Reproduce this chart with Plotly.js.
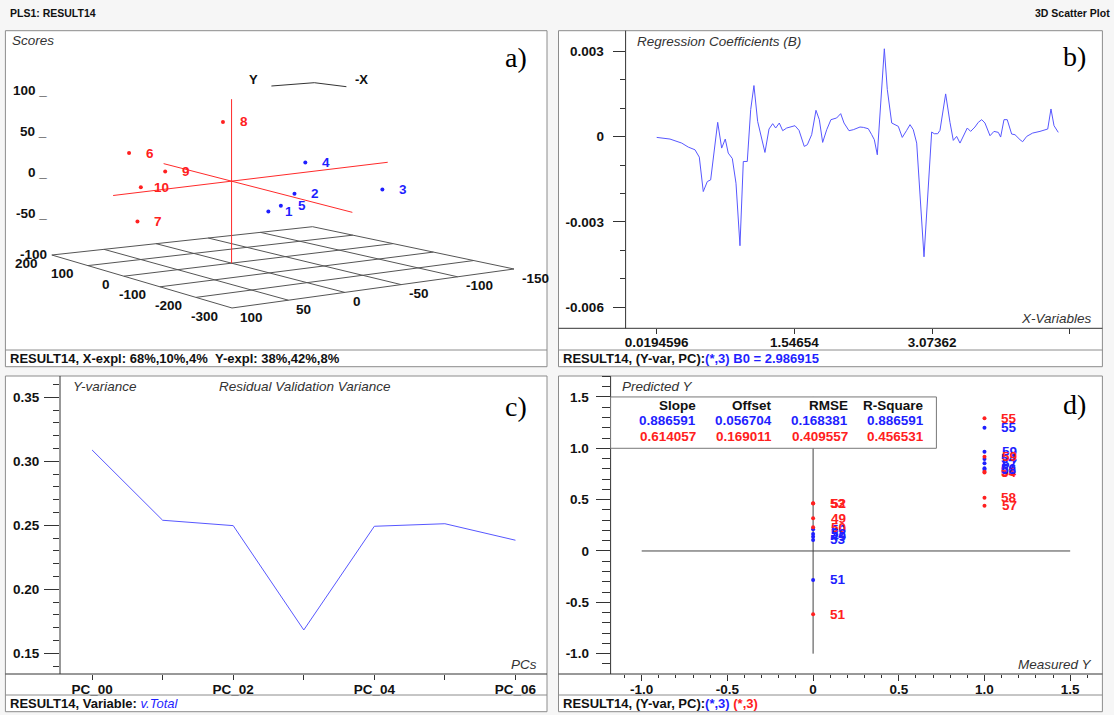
<!DOCTYPE html>
<html><head><meta charset="utf-8">
<script src="https://cdn.plot.ly/plotly-3.0.1.min.js"></script>
<style>html,body{margin:0;padding:0;background:#f6f6f6;}#chart{width:1114px;height:715px;}</style>
</head><body><div id="chart"></div>
<script>
// ---------------- DATA ----------------
// Panel a: PLS scores (3 components) per sample
const sampleIds   = ['1','2','3','4','5','6','7','8','9','10'];
const sampleGroup = ['b','b','b','b','b','r','r','r','r','r'];
const scoreU = [-60, -80, -140, -60, -70, 80, 60, 20, 60, 100];
const scoreV = [-13, -30, -89, -47, -21, 68, 67, 1, 41, 50];
const scoreW = [-32, -11, -9, 22, -25, 35, -46, 70, 11, -12];
const uTicks = [200, 100, 0, -100, -200, -300];
const vTicks = [100, 50, 0, -50, -100, -150];
const wTicks = [100, 50, 0, -50, -100];
const wTickText = ['100 _', '50 _', '0 _', '-50 _', '-100'];

// Panel b: regression coefficients
const coefX = [0.0195,0.167,0.297,0.370,0.444,0.492,0.536,0.581,0.618,0.696,0.740,0.780,0.813,0.858,0.899,0.943,0.980,1.024,1.062,1.098,1.139,1.220,1.265,1.306,1.339,1.379,1.417,1.461,1.553,1.598,1.656,1.690,1.738,1.786,1.823,1.860,1.905,1.952,2.015,2.060,2.097,2.152,2.200,2.274,2.311,2.366,2.404,2.433,2.466,2.504,2.544,2.577,2.626,2.699,2.743,2.792,2.829,2.865,2.903,2.984,3.069,3.098,3.136,3.161,3.224,3.272,3.309,3.346,3.383,3.464,3.501,3.549,3.586,3.624,3.660,3.716,3.760,3.808,3.834,3.871,3.907,3.956,3.993,4.049,4.078,4.123,4.189,4.270,4.356,4.392,4.426,4.473];
const coefB = [-0.024e-3,-0.082e-3,-0.224e-3,-0.365e-3,-0.459e-3,-0.718e-3,-1.929e-3,-1.576e-3,-1.518e-3,0.506e-3,-0.400e-3,-0.082e-3,-0.576e-3,-0.765e-3,-1.635e-3,-3.835e-3,-0.871e-3,-0.871e-3,0.953e-3,1.800e-3,0.541e-3,-0.553e-3,0.271e-3,0.459e-3,0.306e-3,0.482e-3,0.212e-3,0.306e-3,0.388e-3,0.224e-3,-0.341e-3,-0.282e-3,0.071e-3,0.929e-3,0.600e-3,-0.200e-3,0.247e-3,0.600e-3,0.659e-3,0.812e-3,0.482e-3,0.212e-3,0.247e-3,0.341e-3,0.329e-3,0.282e-3,0.071e-3,-0.106e-3,-0.635e-3,1.188e-3,3.094e-3,1.659e-3,0.482e-3,0.365e-3,-0.024e-3,0.224e-3,0.424e-3,0.247e-3,-0.224e-3,-4.224e-3,0.165e-3,0.106e-3,0.106e-3,0.224e-3,1.506e-3,0.506e-3,-0.129e-3,0.012e-3,-0.224e-3,0.306e-3,0.188e-3,0.341e-3,0.506e-3,0.600e-3,0.482e-3,0.035e-3,0.188e-3,0.153e-3,-0.012e-3,0.600e-3,0.600e-3,0.094e-3,0.071e-3,-0.106e-3,-0.176e-3,0.012e-3,0.129e-3,0.188e-3,0.271e-3,0.976e-3,0.388e-3,0.153e-3];
const coefXTicks = [0.0194596, 1.54654, 3.07362, 4.6007];
const coefXTickText = ['0.0194596', '1.54654', '3.07362', ''];
const coefYTicks = [0.003, 0, -0.003, -0.006];
const coefYTickText = ['0.003', '0', '-0.003', '-0.006'];

// Panel c: residual validation variance
const pcLabels = ['PC_00','PC_01','PC_02','PC_03','PC_04','PC_05','PC_06'];
const pcTickText = ['PC_00','','PC_02','','PC_04','','PC_06'];
const yVariance = [0.3088, 0.2539, 0.2497, 0.1682, 0.2492, 0.2512, 0.2383];
const varYTicks = [0.15, 0.20, 0.25, 0.30, 0.35];
const varYTickText = ['0.15', '0.20', '0.25', '0.30', '0.35'];

// Panel d: predicted vs measured
const predIds   = ['49','50','51','52','53','54','55','56','57','58','59'];
const measuredY = [0, 0, 0, 0, 0, 1, 1, 1, 1, 1, 1];
const predBlue  = [0.139, 0.211, -0.282, 0.166, 0.107, 0.896, 1.201, 0.805, 0.854, 0.790, 0.967];
const predRed   = [0.318, 0.231, -0.617, 0.464, 0.462, 0.765, 1.292, 0.772, 0.441, 0.519, 0.918];
const statHeaders = ['Slope', 'Offset', 'RMSE', 'R-Square'];
const statsBlue = ['0.886591', '0.056704', '0.168381', '0.886591'];
const statsRed  = ['0.614057', '0.169011', '0.409557', '0.456531'];
const pvTicks = [-1.0, -0.5, 0, 0.5, 1.0, 1.5];
const pvTickText = ['-1.0', '-0.5', '0', '0.5', '1.0', '1.5'];
const refLineX = [-1.0, 1.5];
const refLineY = [-1.0, 1.5];

// ---------------- STYLE ----------------
const W = 1114, H = 715;
const PX = x => x / W, PY = y => 1 - y / H;
const FONT = 'Liberation Sans, Arial, Helvetica, sans-serif';
const SERIF = 'Liberation Serif, Times New Roman, serif';
const BLUE = '#1f1fff', RED = '#ff2020', LINEBLUE = '#5757ff', AXC = '#333333';
const grpColor = g => g === 'b' ? BLUE : RED;

// 3D projection for panel a (screen positions of floor corners, pixel units)
const floorCorners = {BL:[51.8,255], F:[232,308], R:[514,269], B:[312.5,226.7]};
const wFloor = wTicks[wTicks.length-1], wScale = 0.82;
function proj(u, v, w) {
  const s = (uTicks[0]-u)/(uTicks[0]-uTicks[uTicks.length-1]);
  const t = (vTicks[0]-v)/(vTicks[0]-vTicks[vTicks.length-1]);
  const c = floorCorners;
  const x = (1-s)*(1-t)*c.BL[0] + s*(1-t)*c.F[0] + s*t*c.R[0] + (1-s)*t*c.B[0];
  const y = (1-s)*(1-t)*c.BL[1] + s*(1-t)*c.F[1] + s*t*c.R[1] + (1-s)*t*c.B[1];
  return [x, y - (w - wFloor)*wScale];
}
const uLast = uTicks[uTicks.length-1], vLast = vTicks[vTicks.length-1];

const traces = [];
const annotations = [];
const shapes = [];

function txt(x, y, text, o) {
  o = o || {};
  annotations.push({xref:'paper', yref:'paper', x:PX(x), y:PY(y), text:text, showarrow:false,
    xanchor:o.anchor||'left', yanchor:'middle', borderpad:0,
    font:{family:o.family||FONT, size:o.size||13.5, color:o.color||'#111'}});
}
function rect(x0,y0,x1,y1, fill, line) {
  shapes.push({type:'rect', xref:'paper', yref:'paper', x0:PX(x0), x1:PX(x1), y0:PY(y0), y1:PY(y1),
    fillcolor:fill, line:{color:line||'#8c8c8c', width:1}, layer:'below'});
}
function hline(x0,x1,y,color,layer) {
  shapes.push({type:'line', xref:'paper', yref:'paper', x0:PX(x0), x1:PX(x1), y0:PY(y), y1:PY(y),
    line:{color:color||AXC, width:1}, layer:layer||'above'});
}
function vline(x,y0,y1,color) {
  shapes.push({type:'line', xref:'paper', yref:'paper', x0:PX(x), x1:PX(x), y0:PY(y0), y1:PY(y1),
    line:{color:color||AXC, width:1}, layer:'above'});
}

// Panel frames
const panels = [[5.4,30.7,547,366.7,350],[558.5,30.7,1102.4,366.7,350],[5.4,376,547,711.7,695],[558.5,376,1102.4,711.7,695]];
panels.forEach(p => { rect(p[0],p[1],p[2],p[3],'#ffffff'); hline(p[0],p[2],p[4],'#8c8c8c'); });
// axis lines for b,c,d
hline(558.5,1102.4,328.3); vline(625.6,30.7,328.3);
hline(5.4,547,674); vline(60,376,674);
hline(558.5,1102.4,674); vline(610.6,376,674);

// ---------- Panel a ----------
const gx = [], gy = [];
uTicks.forEach(u => { const a = proj(u, vTicks[0], wFloor), b = proj(u, vLast, wFloor); gx.push(a[0], b[0], null); gy.push(a[1], b[1], null); });
vTicks.forEach(v => { const a = proj(uTicks[0], v, wFloor), b = proj(uLast, v, wFloor); gx.push(a[0], b[0], null); gy.push(a[1], b[1], null); });
traces.push({x:gx, y:gy, xaxis:'x4', yaxis:'y4', mode:'lines', line:{color:'#555', width:1}, hoverinfo:'skip'});
// red axes through origin
const axX = [], axY = [];
[[180,0,0],[-320,0,0]].forEach(p => { const q = proj(p[0],p[1],p[2]); axX.push(q[0]); axY.push(q[1]); }); axX.push(null); axY.push(null);
[[0,110,0],[0,-145,0]].forEach(p => { const q = proj(p[0],p[1],p[2]); axX.push(q[0]); axY.push(q[1]); }); axX.push(null); axY.push(null);
[[0,0,wFloor],[0,0,100]].forEach(p => { const q = proj(p[0],p[1],p[2]); axX.push(q[0]); axY.push(q[1]); });
traces.push({x:axX, y:axY, xaxis:'x4', yaxis:'y4', mode:'lines', line:{color:'#ff2a2a', width:1}, hoverinfo:'skip'});
// points
const sp = sampleIds.map((_, i) => proj(scoreU[i], scoreV[i], scoreW[i]));
traces.push({x:sp.map(p=>p[0]), y:sp.map(p=>p[1]), xaxis:'x4', yaxis:'y4', mode:'markers',
  marker:{size:4, color:sampleGroup.map(grpColor)}, hoverinfo:'skip'});
sampleIds.forEach((id, i) => annotations.push({xref:'x4', yref:'y4', x:sp[i][0], y:sp[i][1], xshift:21, text:'<b>'+id+'</b>',
  showarrow:false, xanchor:'center', yanchor:'middle', font:{family:FONT, size:13.5, color:grpColor(sampleGroup[i])}}));
// tick labels
uTicks.forEach(u => { const q = proj(u, vTicks[0], wFloor); annotations.push({xref:'x4', yref:'y4', x:q[0], y:q[1], xshift:-12, yshift:-8,
  text:'<b>'+u+'</b>', showarrow:false, xanchor:'right', yanchor:'middle', font:{family:FONT, size:13.5, color:'#111'}}); });
vTicks.forEach(v => { const q = proj(uLast, v, wFloor); annotations.push({xref:'x4', yref:'y4', x:q[0], y:q[1], xshift:6, yshift:-9,
  text:'<b>'+v+'</b>', showarrow:false, xanchor:'left', yanchor:'middle', font:{family:FONT, size:13.5, color:'#111'}}); });
wTicks.forEach((w, i) => { const q = proj(uTicks[0], vTicks[0], w); annotations.push({xref:'x4', yref:'y4', x:q[0], y:q[1], xshift:-3,
  text:'<b>'+wTickText[i]+'</b>', showarrow:false, xanchor:'right', yanchor:'middle', font:{family:FONT, size:13.5, color:'#111'}}); });
// orientation indicator
shapes.push({type:'path', xref:'x4', yref:'y4', path:'M271.4,86 L314.3,82.7 L346.4,86.7', line:{color:'#333', width:1}, layer:'above'});
txt(248, 79.3, '<b>Y</b>', {size:13});
txt(354, 80, '<b>-X</b>', {size:13});
txt(11, 41, '<i>Scores</i>', {color:'#333'});
txt(516, 58, 'a)', {family:SERIF, size:28, anchor:'center', color:'#000'});
txt(9, 358.5, '<b>RESULT14, X-expl: 68%,10%,4%\u00a0\u00a0Y-expl: 38%,42%,8%</b>', {size:13});

// ---------- Panel b ----------
traces.push({x:coefX, y:coefB, xaxis:'x', yaxis:'y', mode:'lines', line:{color:LINEBLUE, width:1}, hoverinfo:'skip'});
txt(636, 41.7, '<i>Regression Coefficients (B)</i>', {color:'#333'});
txt(1092.5, 318.3, '<i>X-Variables</i>', {color:'#333', anchor:'right'});
txt(1074, 56.7, 'b)', {family:SERIF, size:28, anchor:'center', color:'#000'});
txt(562, 358.5, '<b>RESULT14, (Y-var, PC):<span style="color:'+BLUE+'">(*,3) B0 = 2.986915</span></b>', {size:13});

// ---------- Panel c ----------
traces.push({x:pcLabels.map((_, i) => i), y:yVariance, xaxis:'x2', yaxis:'y2', mode:'lines', line:{color:LINEBLUE, width:1}, hoverinfo:'skip'});
txt(72, 386.7, '<i>Y-variance</i>', {color:'#333'});
txt(305, 386.7, '<i>Residual Validation Variance</i>', {color:'#333', anchor:'center'});
txt(538, 664, '<i>PCs</i>', {color:'#333', anchor:'right'});
txt(516, 406, 'c)', {family:SERIF, size:28, anchor:'center', color:'#000'});
txt(9, 703.5, '<b>RESULT14, Variable: </b><i><span style="color:'+BLUE+'">v.Total</span></i>', {size:13});

// ---------- Panel d ----------
traces.push({x:refLineX, y:[0,0], xaxis:'x3', yaxis:'y3', mode:'lines', line:{color:'#444', width:1}, hoverinfo:'skip'});
traces.push({x:[0,0], y:refLineY, xaxis:'x3', yaxis:'y3', mode:'lines', line:{color:'#444', width:1}, hoverinfo:'skip'});
traces.push({x:measuredY, y:predBlue, xaxis:'x3', yaxis:'y3', mode:'markers', marker:{size:4, color:BLUE}, hoverinfo:'skip'});
traces.push({x:measuredY, y:predRed, xaxis:'x3', yaxis:'y3', mode:'markers', marker:{size:4, color:RED}, hoverinfo:'skip'});
predIds.forEach((id, i) => {
  annotations.push({xref:'x3', yref:'y3', x:measuredY[i], y:predBlue[i], xshift:25, text:'<b>'+id+'</b>', showarrow:false,
    xanchor:'center', yanchor:'middle', font:{family:FONT, size:13.5, color:BLUE}});
  annotations.push({xref:'x3', yref:'y3', x:measuredY[i], y:predRed[i], xshift:25, text:'<b>'+id+'</b>', showarrow:false,
    xanchor:'center', yanchor:'middle', font:{family:FONT, size:13.5, color:RED}});
});
// stats table box
shapes.push({type:'rect', xref:'x3 domain', yref:'y3', x0:0, x1:(936.4-610.6)/(1102.4-610.6), y0:1.0, y1:1.5,
  fillcolor:'#ffffff', line:{color:'#777', width:1}, layer:'above'});
const colRight = [697, 773, 848.5, 924.5];
statHeaders.forEach((h, i) => {
  txt(colRight[i], 405.5, '<b>'+h+'</b>', {anchor:'right'});
  txt(colRight[i], 421, '<b>'+statsBlue[i]+'</b>', {anchor:'right', color:BLUE});
  txt(colRight[i], 436, '<b>'+statsRed[i]+'</b>', {anchor:'right', color:RED});
});
txt(621, 386.7, '<i>Predicted Y</i>', {color:'#333'});
txt(1092.5, 664, '<i>Measured Y</i>', {color:'#333', anchor:'right'});
txt(1074, 404, 'd)', {family:SERIF, size:28, anchor:'center', color:'#000'});
txt(562, 703.5, '<b>RESULT14, (Y-var, PC):<span style="color:'+BLUE+'">(*,3)</span> <span style="color:'+RED+'">(*,3)</span></b>', {size:13});

// header
txt(9, 13, '<b>PLS1: RESULT14</b>', {size:10.5});
txt(1111, 13, '<b>3D Scatter Plot</b>', {size:10.5, anchor:'right'});

// ---------------- LAYOUT ----------------
const tickFont = {family:FONT, size:13.5, color:'#111', weight:'bold'};
const baseAx = {showgrid:false, zeroline:false, showline:false, ticks:'outside', tickcolor:AXC, tickwidth:1, tickfont:tickFont, fixedrange:true};

const layout = {
  width:W, height:H, margin:{l:0, r:0, t:0, b:0}, paper_bgcolor:'#f6f6f6', plot_bgcolor:'rgba(0,0,0,0)',
  showlegend:false, hovermode:false,
  xaxis: Object.assign({}, baseAx, {domain:[PX(625.6), PX(1102.4)], anchor:'y', range:[-0.3254, 4.9624],
    tickmode:'array', tickvals:coefXTicks, ticktext:coefXTickText, ticklen:5, ticklabelstandoff:-4}),
  yaxis: Object.assign({}, baseAx, {domain:[PY(328.3), PY(30.7)], anchor:'x', range:[-0.00674, 0.00373],
    tickmode:'array', tickvals:coefYTicks, ticktext:coefYTickText, ticklen:12, ticklabelstandoff:6,
    minor:{tick0:0, dtick:0.001, ticks:'outside', ticklen:5, tickcolor:AXC}}),
  xaxis2: Object.assign({}, baseAx, {domain:[PX(60), PX(547)], anchor:'y2', range:[-0.4547, 6.447],
    tickmode:'array', tickvals:pcLabels.map((_, i) => i), ticktext:pcTickText, ticklen:5, ticklabelstandoff:-2}),
  yaxis2: Object.assign({}, baseAx, {domain:[PY(674), PY(376)], anchor:'x2', range:[0.1338, 0.3666],
    tickmode:'array', tickvals:varYTicks, ticktext:varYTickText, ticklen:15, ticklabelstandoff:2,
    minor:{tick0:0, dtick:0.01, ticks:'outside', ticklen:6, tickcolor:AXC}}),
  xaxis3: Object.assign({}, baseAx, {domain:[PX(610.6), PX(1102.4)], anchor:'y3', range:[-1.1815, 1.688],
    tickmode:'array', tickvals:pvTicks, ticktext:pvTickText, ticklen:6, ticklabelstandoff:-3,
    minor:{tick0:0, dtick:0.1, ticks:'outside', ticklen:3, tickcolor:AXC}}),
  yaxis3: Object.assign({}, baseAx, {domain:[PY(674), PY(376)], anchor:'x3', range:[-1.198, 1.704],
    tickmode:'array', tickvals:pvTicks, ticktext:pvTickText, ticklen:14, ticklabelstandoff:4,
    minor:{tick0:0, dtick:0.1, ticks:'outside', ticklen:8, tickcolor:AXC}}),
  xaxis4: {domain:[PX(5.4), PX(547)], anchor:'y4', range:[5.4, 547], visible:false, fixedrange:true},
  yaxis4: {domain:[PY(366.7), PY(30.7)], anchor:'x4', range:[366.7, 30.7], visible:false, fixedrange:true},
  shapes:shapes, annotations:annotations
};

Plotly.newPlot('chart', traces, layout, {staticPlot:true, displayModeBar:false});
</script></body></html>
